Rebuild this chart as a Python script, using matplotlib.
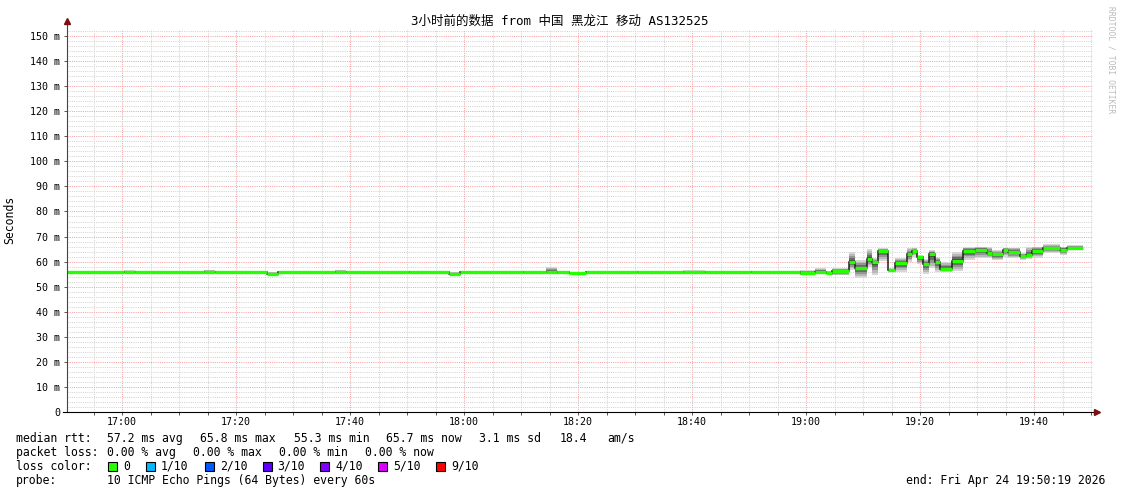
import numpy as np
import matplotlib
matplotlib.use("Agg")
import matplotlib.pyplot as plt
import matplotlib.dates as mdates
from matplotlib.patches import Rectangle
from datetime import datetime, timedelta

W, H = 1121, 494
start = datetime(2026, 4, 24, 16, 50, 19)
end = datetime(2026, 4, 24, 19, 50, 19)

# step boundaries (minutes after start) and the value of each step
seg_edges = [0, 10, 12, 24, 26, 35, 37, 47, 49, 60, 67, 69, 80, 84, 86, 88, 91, 100,
             108, 112, 120, 128.6, 131.2, 133.2, 134.2, 137.2, 138.2, 140.4, 141.2,
             142.3, 144.0, 145.3, 147.4, 148.2, 149.1, 150.2, 151.2, 152.3, 153.2,
             155.3, 157.2, 159.3, 161.4, 162.3, 164.2, 165.1, 167.2, 168.2, 169.3,
             171.2, 174.2, 175.4, 178.2]
seg_median = [55.9, 55.8, 55.8, 55.9, 55.7, 55.1, 55.8, 55.8, 55.8, 55.8, 55.0, 55.8,
              55.8, 55.9, 55.7, 55.3, 55.7, 55.8, 55.8, 55.7, 55.8, 55.6, 55.9, 55.6,
              56.2, 60.0, 57.4, 61.0, 59.7, 64.2, 56.5, 59.6, 63.0, 64.3, 61.7, 59.0,
              63.0, 60.0, 57.1, 60.2, 64.3, 64.8, 63.3, 62.9, 64.8, 63.9, 62.2, 62.6,
              64.2, 65.3, 64.8, 65.6]
seg_low = [55.5, 55.4, 55.5, 55.5, 55.4, 54.8, 55.4, 55.4, 55.5, 55.4, 54.7, 55.5,
           55.3, 55.3, 55.0, 55.0, 55.4, 55.5, 55.3, 55.4, 55.4, 54.6, 54.9, 54.9,
           54.5, 56.6, 53.3, 58.0, 54.6, 60.3, 56.0, 55.7, 60.0, 62.0, 58.9, 55.0,
           57.3, 56.0, 56.0, 56.3, 60.6, 61.3, 61.3, 60.6, 62.0, 61.3, 60.6, 61.0,
           61.6, 63.3, 62.6, 64.6]
seg_high = [56.2, 56.6, 56.2, 56.6, 56.1, 55.8, 56.2, 56.7, 56.2, 56.3, 55.9, 56.2,
            56.2, 57.8, 56.4, 55.9, 56.2, 56.2, 56.6, 56.1, 56.3, 56.5, 57.3, 56.3,
            57.5, 63.9, 60.6, 65.0, 61.3, 65.3, 57.3, 61.5, 65.3, 65.6, 62.6, 61.0,
            64.6, 62.0, 60.0, 63.9, 65.9, 66.0, 66.0, 64.6, 65.6, 65.6, 63.3, 66.0,
            66.0, 67.0, 66.0, 66.6]

y_ticks = [0, 10, 20, 30, 40, 50, 60, 70, 80, 90, 100, 110, 120, 130, 140, 150]
y_labels = ["0"] + ["%d m" % v for v in y_ticks[1:]]

loss_labels = ["0", "1/10", "2/10", "3/10", "4/10", "5/10", "9/10"]
loss_colors = ["#26ff00", "#00b8ff", "#0059ff", "#5e00ff", "#7e00ff", "#dd00ff", "#ff0000"]

MONO = "DejaVu Sans Mono"
plt.rcParams["font.family"] = [MONO, "Noto Sans CJK SC"]


def fx(x):
    return x / W


def fy(y):
    return 1 - y / H


fig = plt.figure(figsize=(W / 100, H / 100), dpi=100)
ax = fig.add_axes([fx(67), fy(412), (1093 - 67) / W, (412 - 29) / H])

edges = mdates.date2num([start + timedelta(minutes=m) for m in seg_edges])
med = np.array(seg_median)
lo = np.array(seg_low)
hi = np.array(seg_high)

# smoke, outer layers light, inner layers dark
shades = ["#d6d6d6", "#b8b8b8", "#959595", "#6a6a6a", "#404040"]
fracs = [1.0, 0.8, 0.6, 0.4, 0.18]
for f, c in zip(fracs, shades):
    ax.stairs(med + f * (hi - med), edges, baseline=med - f * (med - lo),
              fill=True, color=c, lw=0, zorder=2)
ax.stairs(med, edges, baseline=None, color="#1c1c1c", lw=1.1, zorder=3)
ax.hlines(med, edges[:-1], edges[1:], color=loss_colors[0], lw=2.4, zorder=4)

ax.set_xlim(mdates.date2num(start), mdates.date2num(end))
ax.set_ylim(0, 152.8)
ax.xaxis.set_major_locator(mdates.MinuteLocator(byminute=[0, 20, 40]))
ax.xaxis.set_minor_locator(mdates.MinuteLocator(byminute=range(0, 60, 5)))
ax.xaxis.set_major_formatter(mdates.DateFormatter("%H:%M"))
ax.set_yticks(y_ticks, y_labels)
ax.set_yticks(np.arange(0, 153, 2), minor=True)

ax.set_axisbelow(True)
ax.grid(which="minor", color="#d2d2d2", lw=0.72, ls=(0, (1, 1.2)))
ax.grid(which="major", color="#f5a0a0", lw=0.72, ls=(0, (1, 1.2)))

for s in ax.spines.values():
    s.set_visible(False)
ax.tick_params(which="both", color="#555555", width=0.7, labelsize=7.2)
ax.tick_params(axis="x", which="both", length=2, pad=1.5)
ax.tick_params(axis="y", which="major", length=2, pad=3)
ax.tick_params(axis="y", which="minor", length=0)

# axis lines with arrow heads
ax.plot([0, 0], [0, 1.015], color="#444444", lw=0.8, transform=ax.transAxes,
        clip_on=False, zorder=5)
ax.plot([-0.004, 1.003], [0, 0], color="#000000", lw=0.8, transform=ax.transAxes,
        clip_on=False, zorder=5)
ax.plot([0], [1.02], marker="^", ms=4, color="#7a1010", transform=ax.transAxes,
        clip_on=False, zorder=6)
ax.plot([1.004], [0], marker=">", ms=4, color="#7a1010", transform=ax.transAxes,
        clip_on=False, zorder=6)

fig.text(fx(560), fy(21), "3小时前的数据 from 中国 黑龙江 移动 AS132525",
         ha="center", va="center", size=9)
fig.text(fx(10), fy(220), "Seconds", rotation=90, ha="center", va="center", size=8.3)
fig.text(fx(1111), fy(60), "RRDTOOL / TOBI OETIKER", rotation=270, ha="center",
         va="center", size=5.8, color="#bbbbbb")

leg = dict(ha="left", va="center", size=8.3, family=MONO)
fig.text(fx(16), fy(438), "median rtt:", **leg)
for x, s in zip([107, 200.5, 293.5, 386.5, 479, 560, 607],
                ["57.2 ms avg", "65.8 ms max", "55.3 ms min", "65.7 ms now",
                 "3.1 ms sd", "18.4", "am/s"]):
    fig.text(fx(x), fy(438), s, **leg)

fig.text(fx(16), fy(452), "packet loss:", **leg)
for x, s in zip([107, 193, 279, 365],
                ["0.00 % avg", "0.00 % max", "0.00 % min", "0.00 % now"]):
    fig.text(fx(x), fy(452), s, **leg)

fig.text(fx(16), fy(466), "loss color:", **leg)
sq_x = [108, 146, 205, 262.5, 320, 378, 436]
for x, lab, c in zip(sq_x, loss_labels, loss_colors):
    fig.add_artist(Rectangle((fx(x), fy(470.5)), 9 / W, 9 / H, facecolor=c,
                             edgecolor="black", lw=0.8, transform=fig.transFigure))
    fig.text(fx(x + 15), fy(466), lab, **leg)

fig.text(fx(16), fy(480), "probe:", **leg)
fig.text(fx(107), fy(480), "10 ICMP Echo Pings (64 Bytes) every 60s", **leg)
fig.text(fx(1105), fy(480), "end: Fri Apr 24 19:50:19 2026", ha="right", va="center",
         size=8.3, family=MONO)

fig.savefig("out.png", dpi=100)
